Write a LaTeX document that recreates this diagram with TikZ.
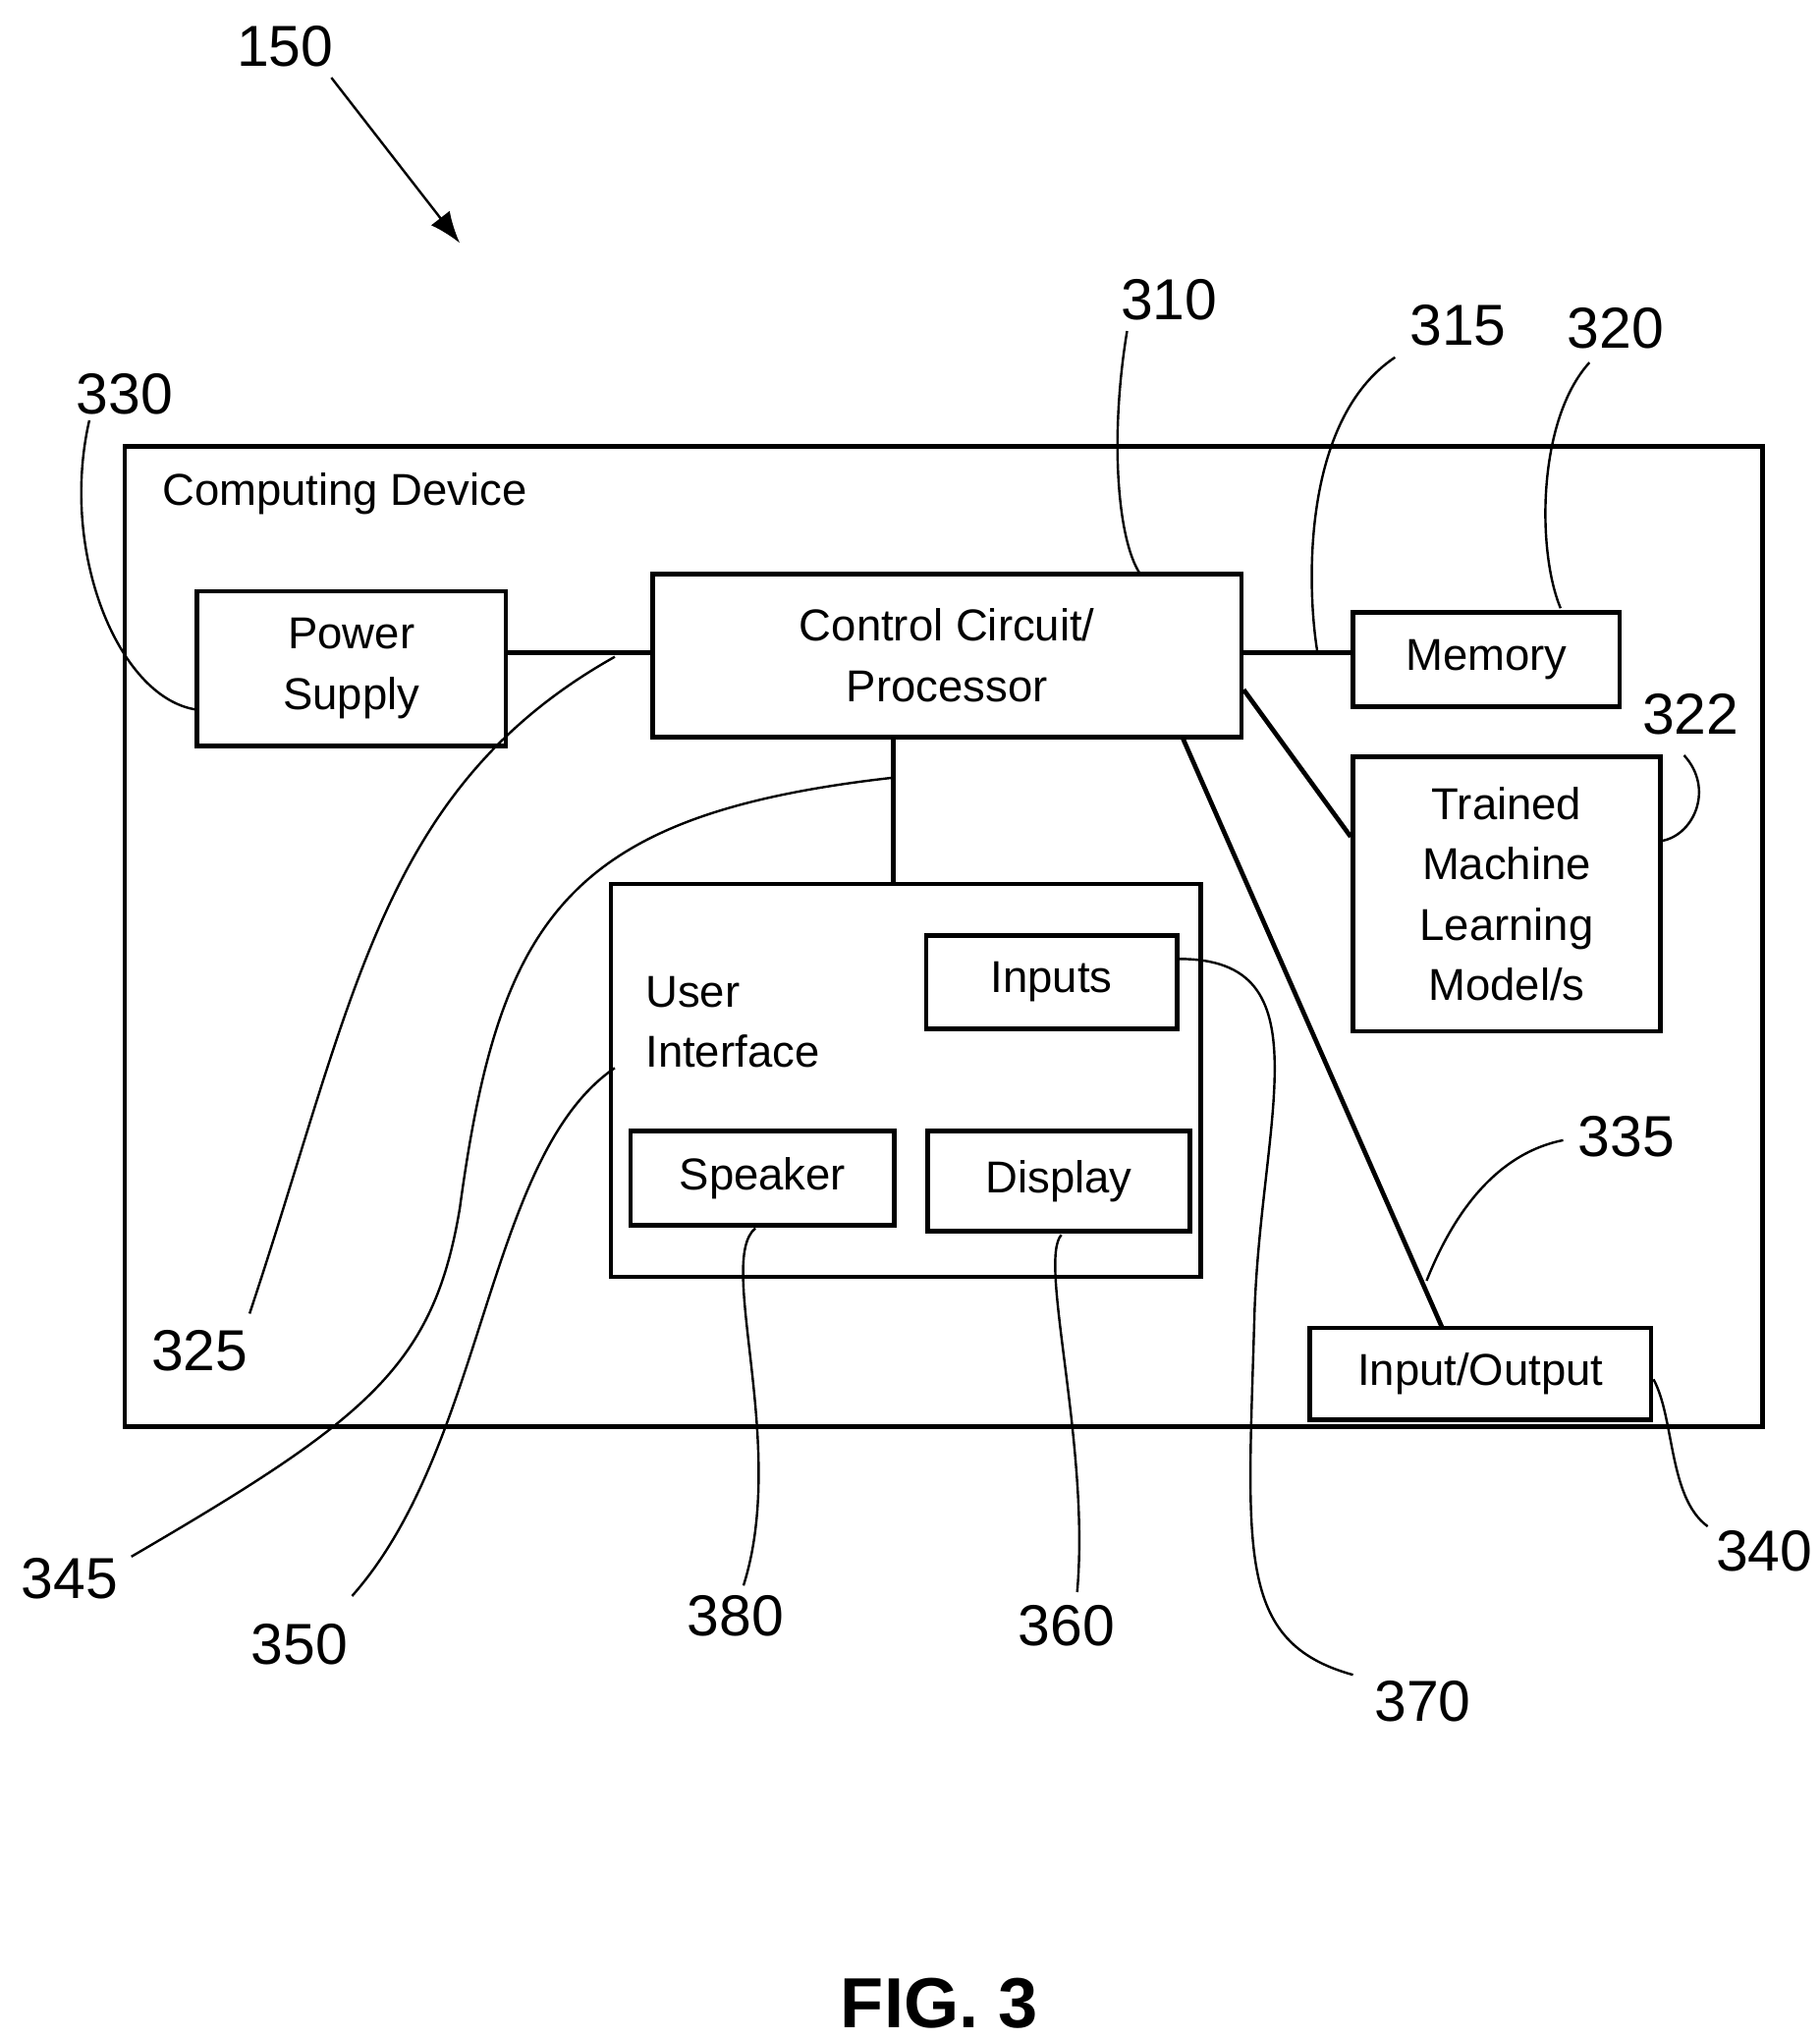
\documentclass[tikz,border=0pt]{standalone}
\usepackage{fontspec}
\setmainfont{Liberation Sans}
\usetikzlibrary{positioning,arrows.meta}
\tikzset{
  blk/.style={draw,line width=3.5pt,inner sep=0pt,align=center,font=\fontsize{34}{46}\selectfont},
  lead/.style={line width=1.8pt},
  num/.style={font=\fontsize{44}{50}\selectfont}
}
\begin{document}
\begin{tikzpicture}[x=1pt,y=-1pt]
\useasboundingbox (0,0) rectangle (1385,1553);
% boxes
\draw[line width=3.5pt] (95,340) rectangle (1342,1086);
\node[anchor=west,font=\fontsize{34}{40}\selectfont] (cdtext) at (120,376) {Computing Device};
\node[blk,minimum width=235pt,minimum height=118pt] (power) at (267.5,509) {Power\\Supply};
\node[blk,minimum width=448pt,minimum height=124pt] (ctrl) at (721,499) {Control Circuit/\\Processor};
\node[blk,minimum width=203pt,minimum height=72pt] (mem) at (1131.5,502) {Memory};
\node[blk,minimum width=234pt,minimum height=209pt] (tml) at (1147,680.5) {Trained\\Machine\\Learning\\Model/s};
\node[blk,minimum width=449pt,minimum height=299pt] (ui) at (689.5,822.5) {};
\node[anchor=west,align=left,font=\fontsize{34}{46}\selectfont] (uitext) at (488,778) {User\\Interface};
\node[blk,minimum width=191pt,minimum height=71pt] (inputs) at (800.5,747.5) {Inputs};
\node[blk,minimum width=201pt,minimum height=72pt] (spk) at (580.5,897) {Speaker};
\node[blk,minimum width=200pt,minimum height=76pt] (disp) at (806,899) {Display};
\node[blk,minimum width=260pt,minimum height=70pt,fill=white] (io) at (1127,1046) {Input/Output};
% connections
\draw[line width=3.5pt] (power.east|-0,497) -- (ctrl.west|-0,497);
\draw[line width=3.5pt] (ctrl.east|-0,497) -- (mem.west|-0,497);
\draw[line width=3.5pt] (ctrl.east|-0,525) -- (tml.west|-0,637);
\draw[line width=3.5pt] (900,561) -- (1098,1011);
\draw[line width=3.5pt] (680,561) -- (680,673);
% reference numerals
\node[num] (n150) at (217,35) {150};
\coordinate (a150) at (350,185);
\draw[lead,-{Latex[length=24pt,width=18pt]}] (n150.south east) ++(-5,5) -- (a150);
\node[num] (n330) at (95,300) {330};
\node[num] (n310) at (890,228) {310};
\node[num] (n315) at (1110,248) {315};
\node[num] (n320) at (1230,250) {320};
\node[num] (n322) at (1287,544) {322};
\node[num] (n325) at (152,1028) {325};
\node[num] (n345) at (53,1202) {345};
\node[num] (n350) at (228,1252) {350};
\node[num] (n380) at (560,1230) {380};
\node[num] (n360) at (812,1238) {360};
\node[num] (n370) at (1083,1295) {370};
\node[num] (n335) at (1238,865) {335};
\node[num] (n340) at (1343,1181) {340};
\node[font=\fontsize{54}{56}\selectfont\bfseries] (fig) at (715,1525) {FIG. 3};
% leaders
\draw[lead] (68,320) .. controls (45,420) and (90,530) .. (power.west|-0,540);
\draw[lead] (858,252) .. controls (845,330) and (850,410) .. (868,437);
\draw[lead] (1062,272) .. controls (990,320) and (995,450) .. (1003,497);
\draw[lead] (1210,276) .. controls (1170,320) and (1170,420) .. (1188,463);
\draw[lead] (1282,575) .. controls (1305,600) and (1290,635) .. (tml.east|-0,640);
\draw[lead] (190,1000) .. controls (270,760) and (290,600) .. (468,500);
\draw[lead] (100,1185) .. controls (280,1080) and (330,1040) .. (350,920)
  .. controls (380,700) and (430,620) .. (680,592);
\draw[lead] (268,1215) .. controls (370,1100) and (370,880) .. (468,813);
\draw[lead] (566,1207) .. controls (600,1100) and (545,960) .. (575,935);
\draw[lead] (820,1212) .. controls (830,1100) and (790,960) .. (808,940);
\draw[lead] (1030,1275) .. controls (940,1250) and (950,1180) .. (955,1000)
  .. controls (960,850) and (1010,730) .. (inputs.east|-0,730);
\draw[lead] (1190,868) .. controls (1130,880) and (1100,940) .. (1086,975);
\draw[lead] (1300,1162) .. controls (1270,1140) and (1275,1080) .. (io.east|-0,1050);
\end{tikzpicture}
\end{document}
